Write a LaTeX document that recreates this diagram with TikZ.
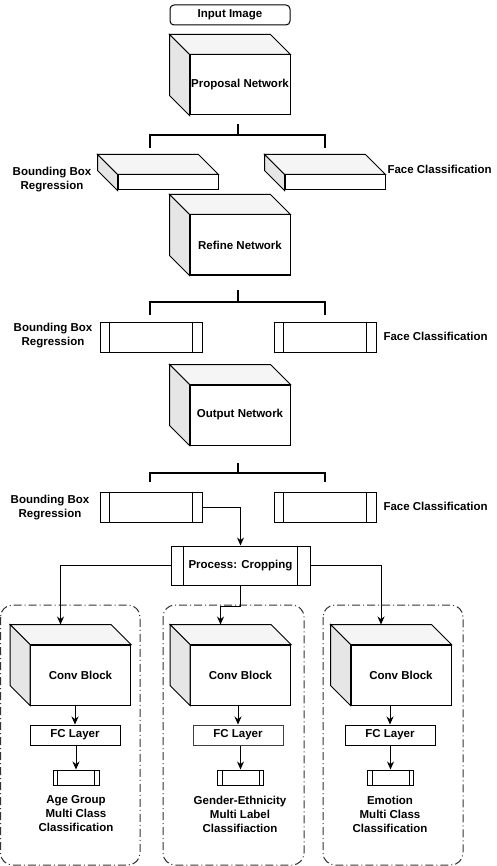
\documentclass[tikz,border=0pt]{standalone}
\usepackage{fontspec}
\setmainfont{Liberation Sans}
\usetikzlibrary{calc, arrows.meta}

\definecolor{sidegray}{HTML}{E6E6E6}
\definecolor{topgray}{HTML}{F5F5F5}

% side and top faces of a box, drawn behind its front node
\newcommand{\cubedepth}[1]{%
  \filldraw[fill=topgray] (#1.north west) -- ++(-20,20) -- ($(#1.north east)+(-20,20)$) -- (#1.north east) -- cycle;
  \filldraw[fill=sidegray] (#1.north west) -- ++(-20,20) -- ($(#1.south west)+(-20,20)$) -- (#1.south west) -- cycle;}
% the two inner bars of a process box
\newcommand{\procbars}[2]{%
  \draw ([xshift=#2]#1.north west) -- ([xshift=#2]#1.south west);
  \draw ([xshift=-#2]#1.north east) -- ([xshift=-#2]#1.south east);}

\begin{document}
\begin{tikzpicture}[x=1pt, y=1pt, line width=1pt,
    txt/.style={font=\bfseries\fontsize{11.5}{14}\selectfont, align=center},
    front/.style={draw, fill=white, inner sep=0pt, minimum width=100pt, minimum height=60pt, txt},
    flat/.style={draw, fill=white, inner sep=0pt, minimum width=100pt, minimum height=15pt},
    proc/.style={draw, fill=white, inner sep=0pt, minimum width=102pt, minimum height=30pt},
    small/.style={draw, fill=white, inner sep=0pt, minimum width=46pt, minimum height=15pt},
    fclayer/.style={draw, fill=white, inner sep=0pt, minimum width=90pt, minimum height=20pt, txt},
    bar/.style={line width=2pt},
    group/.style={draw=black!80, dash pattern=on 8pt off 3pt on 1pt off 3pt, rounded corners=12pt},
    arr/.style={-{Stealth[length=8pt,width=7pt]}}]
  \useasboundingbox (0,0) rectangle (496,-866);

  % task groups
  \draw[group] (0.5,-605) rectangle (140,-865);
  \draw[group] (163,-605) rectangle (304,-865);
  \draw[group] (323,-605) rectangle (463,-865);

  % detection stages
  \node[draw, rounded corners=4pt, minimum width=120pt, minimum height=20pt, inner sep=0pt, txt] (input) at (230,-15) {Input Image};

  \node[front] (pnet) at (240,-85) {Proposal Network};
  \cubedepth{pnet}
  \draw[bar] (238,-124) -- (238,-135) (150,-148) -- (150,-135) -- (325,-135) -- (325,-148);
  \node[flat] (pbox) at (168,-182.5) {};
  \cubedepth{pbox}
  \node[flat] (pcls) at (335,-182.5) {};
  \cubedepth{pcls}
  \node[txt] (pboxlbl) at (52,-179.5) {Bounding Box\\Regression};
  \node[txt, anchor=west, inner sep=0pt] (pclslbl) at (387,-169) {Face Classification};

  \node[front] (rnet) at (240,-245) {Refine Network};
  \cubedepth{rnet}
  \draw[bar] (238,-290) -- (238,-302) (150,-315) -- (150,-302) -- (325,-302) -- (325,-315);
  \node[proc] (rbox) at (151,-337) {};
  \procbars{rbox}{10pt}
  \node[proc] (rcls) at (325,-337) {};
  \procbars{rcls}{10pt}
  \node[txt] (rboxlbl) at (53,-336) {Bounding Box\\Regression};
  \node[txt, anchor=west, inner sep=0pt] (rclslbl) at (383,-336) {Face Classification};

  \node[front] (onet) at (240,-415) {Output Network};
  \cubedepth{onet}
  \draw[bar] (238,-463) -- (238,-473) (150,-482) -- (150,-473) -- (325,-473) -- (325,-482);
  \node[proc] (obox) at (151,-507) {};
  \procbars{obox}{10pt}
  \node[proc] (ocls) at (325,-507) {};
  \procbars{ocls}{10pt}
  \node[txt] (oboxlbl) at (50,-507.5) {Bounding Box\\Regression};
  \node[txt, anchor=west, inner sep=0pt] (oclslbl) at (383,-506) {Face Classification};

  \node[proc, minimum width=139pt, minimum height=39pt, txt] (crop) at (240.5,-565.5) {Process: Cropping};
  \procbars{crop}{13pt}
  \draw[arr] (obox.east) -| (crop.north);

  % task heads
  \node[front] (convA) at (80.5,-675) {Conv Block};
  \cubedepth{convA}
  \node[front] (convB) at (240.5,-675) {Conv Block};
  \cubedepth{convB}
  \node[front] (convC) at (401,-675) {Conv Block};
  \cubedepth{convC}
  \coordinate (topA) at ($(convA.north)+(-20,20)$);
  \coordinate (topB) at ($(convB.north)+(-20,20)$);
  \coordinate (topC) at ($(convC.north)+(-20,20)$);
  \draw[arr] (crop.west) -| (topA);
  \draw[arr] (crop.east) -| (topC);
  \draw[arr] (crop.south) -- ++(0,-20.5) -| (topB);

  \node[fclayer] (fcA) at (75,-735) {FC Layer};
  \node[fclayer, draw=black!75] (fcB) at (238,-735) {FC Layer};
  \node[fclayer] (fcC) at (390,-735) {FC Layer};
  \node[small] (outA) at (76,-777.5) {};
  \procbars{outA}{5pt}
  \node[small] (outB) at (240.5,-777.5) {};
  \procbars{outB}{5pt}
  \node[small] (outC) at (390.5,-777.5) {};
  \procbars{outC}{5pt}
  \foreach \t in {A,B,C} {
    \draw[arr] (fc\t.north |- conv\t.south) -- (fc\t.north);
    \draw[arr] (out\t.north |- fc\t.south) -- (out\t.north);
  }
  \node[txt] (lblA) at (76,-814) {Age Group\\Multi Class\\Classification};
  \node[txt] (lblB) at (240,-814) {Gender-Ethnicity\\Multi Label\\Classifiaction};
  \node[txt] (lblC) at (390,-814) {Emotion\\Multi Class\\Classification};
\end{tikzpicture}
\end{document}
